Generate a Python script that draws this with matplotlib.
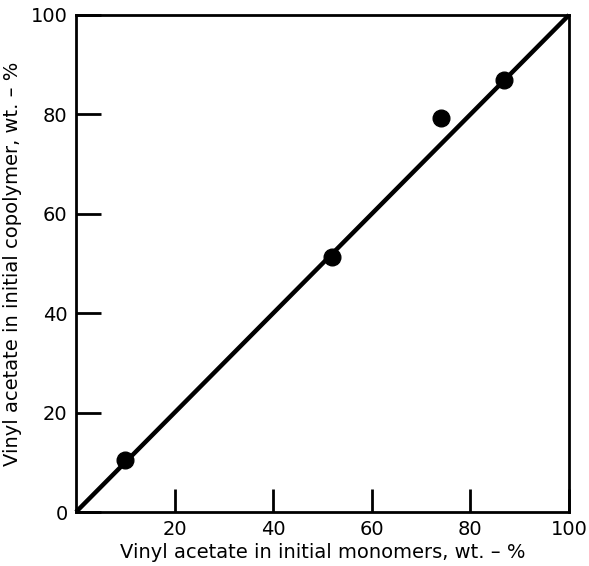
import matplotlib
matplotlib.use("Agg")
import matplotlib.pyplot as plt

monomer_va = [9.9, 51.9, 74.0, 86.8]
copolymer_va = [10.4, 51.3, 79.2, 86.9]
line_x = [0, 100]
line_y = [0, 100]
x_ticks = [20, 40, 60, 80, 100]
y_ticks = [0, 20, 40, 60, 80, 100]

plt.rcParams['font.family'] = ['DejaVu Sans']
fig = plt.figure(figsize=(5.89, 5.66), dpi=100)
ax = fig.add_axes([76/589, 1-512/566, (569-76)/589, (512-15)/566])

ax.plot(line_x, line_y, color='black', lw=3.2, solid_capstyle='butt', clip_on=False)
ax.plot(monomer_va, copolymer_va, 'o', color='black', ms=12, clip_on=False)

ax.set_xlim(0, 100)
ax.set_ylim(0, 100)
ax.set_xticks(x_ticks)
ax.set_yticks(y_ticks)
ax.tick_params(direction='in', width=2, labelsize=14, color='black')
ax.tick_params(axis='x', length=16.5, pad=6)
ax.tick_params(axis='y', length=18, pad=6)
for s in ax.spines.values():
    s.set_linewidth(2)
ax.set_xlabel('Vinyl acetate in initial monomers, wt. – %', fontsize=14, labelpad=3)
ax.set_ylabel('Vinyl acetate in initial copolymer, wt. – %', fontsize=14, labelpad=6)
fig.savefig('out.png', dpi=100)
